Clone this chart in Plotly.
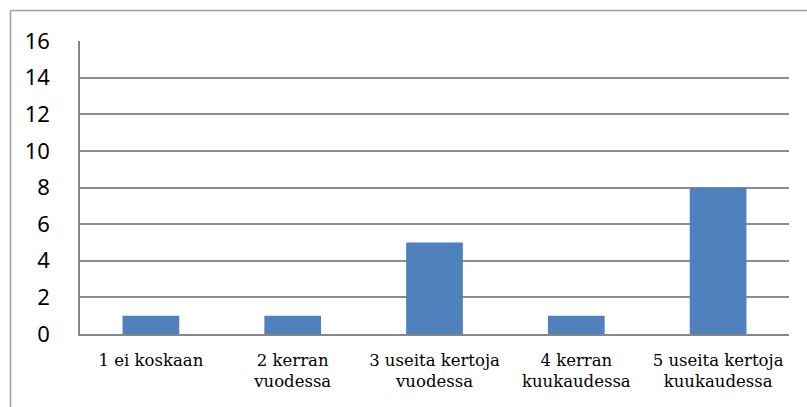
import plotly.graph_objects as go

categories = ["1 ei koskaan", "2 kerran<br>vuodessa", "3 useita kertoja<br>vuodessa",
              "4 kerran<br>kuukaudessa", "5 useita kertoja<br>kuukaudessa"]
values = [1, 1, 5, 1, 8]
y_ticks = [0, 2, 4, 6, 8, 10, 12, 14, 16]

W, H = 807, 407
L, R, T, B = 80, 18, 41, 73
pw, ph = W - L - R, H - T - B

fig = go.Figure(go.Bar(x=categories, y=values, marker_color="#4F81BD",
                       marker_line_width=0, width=0.4))

# outer frame: left and top edges only, the rest falls outside the page
def px_to_paper_x(px):
    return (px - L) / pw

def px_to_paper_y(py):
    return (H - B - py) / ph

frame = dict(type="line", xref="paper", yref="paper", line=dict(color="#A0A0A0", width=1.5))
fig.add_shape(**frame, x0=px_to_paper_x(10.5), x1=px_to_paper_x(10.5),
              y0=px_to_paper_y(10.5), y1=px_to_paper_y(420))
fig.add_shape(**frame, x0=px_to_paper_x(10.5), x1=px_to_paper_x(820),
              y0=px_to_paper_y(10.5), y1=px_to_paper_y(10.5))

fig.update_layout(
    width=W, height=H, margin=dict(l=L, r=R, t=T, b=B),
    paper_bgcolor="white", plot_bgcolor="white", showlegend=False,
    bargap=0.6,
    font=dict(family="Noto Sans", size=22, color="black"),
    xaxis=dict(showline=True, linecolor="#868686", linewidth=1.5, showgrid=False,
               ticks="",
               tickfont=dict(family="DejaVu Serif", size=16.5, color="black"),
               ticklabelstandoff=10),
    yaxis=dict(range=[0, 16], tickvals=y_ticks, showline=True, linecolor="#868686",
               linewidth=1.5, gridcolor="#8C8C8C", gridwidth=1.5, zeroline=False,
               ticks="",
               tickfont=dict(family="Noto Sans", size=22, color="black"),
               ticklabelstandoff=24),
)

fig.write_html("out.html")
